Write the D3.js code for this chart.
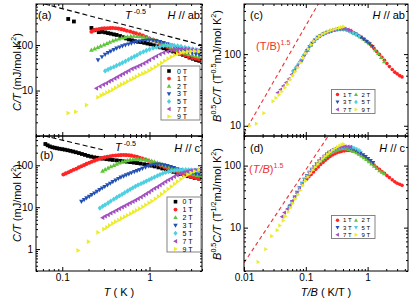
<!DOCTYPE html>
<html>
<head>
<meta charset="utf-8">
<script src="https://cdn.jsdelivr.net/npm/d3@7"></script>
<style>
body { margin: 0; background: #fff; }
text { font-family: "Liberation Sans", Arial, sans-serif; }
</style>
</head>
<body>
<div id="grafico"></div>
<script>
// Campos magneticos y estilos de cada serie
var campos = ["0 T", "1 T", "2 T", "3 T", "5 T", "7 T", "9 T"];
var colores = ["#000000", "#ff2424", "#5ec43a", "#2350b2", "#4ccfe0", "#a24fc0", "#ecec2a"];
var simbolos = ["cuadrado", "circulo", "arriba", "abajo", "diamante", "izq", "der"];

// (a) H // ab : T (K) , C/T (mJ/mol K^2)
var a0T = [[0.117,375],[0.136,330],[0.216,238],[0.235,212],[0.262,192],[0.285,195],[0.31,190],[0.335,183],[0.36,178],[0.39,172],[0.42,167],[0.46,158],[0.5,149],[0.54,140],[0.58,133],[0.63,127],[0.68,122],[0.74,118],[0.8,116],[0.87,112],[0.95,108],[1.03,104],[1.12,99],[1.22,94],[1.33,89],[1.45,85],[1.58,81],[1.72,76],[1.87,72],[2.04,68],[2.22,65],[2.42,61],[2.64,57],[2.88,53],[3.14,50],[3.42,47],[3.72,45]];
var a1T = [[0.216,197],[0.23,210],[0.246,220],[0.265,226],[0.285,230],[0.305,233],[0.33,235],[0.355,236],[0.38,237],[0.41,235],[0.44,230],[0.475,224],[0.51,216],[0.55,207],[0.6,198],[0.65,189],[0.7,181],[0.77,172],[0.84,162],[0.92,150],[1.0,140],[1.1,130],[1.2,120],[1.32,110],[1.45,100],[1.6,91],[1.75,83],[1.92,76],[2.1,70],[2.3,64],[2.55,59],[2.8,55],[3.1,52],[3.4,50],[3.7,48]];
var a2T = [[0.216,78],[0.235,83],[0.255,89],[0.275,95],[0.3,102],[0.325,109],[0.35,116],[0.38,124],[0.41,131],[0.445,138],[0.48,144],[0.52,149],[0.56,153],[0.61,156],[0.66,157],[0.72,156],[0.78,154],[0.85,150],[0.93,145],[1.0,140],[1.1,133],[1.2,125],[1.32,116],[1.45,107],[1.6,99],[1.75,91],[1.92,84],[2.1,78],[2.3,72],[2.55,67],[2.8,63],[3.1,60],[3.4,57],[3.7,55]];
var a3T = [[0.257,47],[0.285,55],[0.31,62],[0.335,68],[0.36,73],[0.39,79],[0.42,85],[0.455,90],[0.49,95],[0.53,100],[0.575,105],[0.62,110],[0.67,115],[0.72,119],[0.78,122],[0.85,125],[0.92,127],[1.0,128],[1.1,127],[1.2,124],[1.32,119],[1.45,113],[1.6,106],[1.75,99],[1.92,92],[2.1,86],[2.3,80],[2.55,75],[2.8,71],[3.1,67],[3.4,64],[3.7,62]];
var a5T = [[0.31,27],[0.335,29],[0.36,31],[0.39,33],[0.42,35.5],[0.455,38],[0.49,41],[0.53,44],[0.575,48],[0.62,52],[0.67,56],[0.72,60],[0.78,66],[0.85,71],[0.92,76],[1.0,81],[1.1,86],[1.2,90],[1.32,93],[1.45,96],[1.6,98],[1.75,99],[1.92,98],[2.1,96],[2.3,93],[2.55,89],[2.8,86],[3.1,82],[3.4,79],[3.7,76]];
var a7T = [[0.246,11.2],[0.27,12.3],[0.295,13.5],[0.32,14.5],[0.345,15.8],[0.37,17],[0.4,18.4],[0.43,20],[0.465,21.8],[0.5,23.5],[0.54,25.5],[0.58,27.5],[0.63,30],[0.68,32],[0.735,34],[0.79,36.5],[0.86,39.5],[0.93,43],[1.0,47],[1.1,52],[1.2,57],[1.32,63],[1.45,68],[1.6,72],[1.75,76],[1.92,79],[2.1,81],[2.3,82],[2.55,82],[2.8,81],[3.1,79],[3.4,77],[3.7,75]];
var a9T = [[0.117,3.2],[0.143,3.4],[0.19,4.8],[0.257,7.1],[0.28,7.8],[0.3,8.3],[0.325,9],[0.35,9.6],[0.38,10.5],[0.41,11.5],[0.445,12.5],[0.48,13.6],[0.52,14.6],[0.56,15.8],[0.61,17.2],[0.66,18.6],[0.71,20.2],[0.77,22],[0.84,23.5],[0.91,25],[0.99,27.5],[1.07,30],[1.17,33],[1.27,36.5],[1.38,40.5],[1.5,45],[1.64,50],[1.78,55],[1.94,60],[2.1,64],[2.3,67.5],[2.5,70],[2.75,72],[3.0,73],[3.3,73.5],[3.7,73]];

// (b) H // c : T (K) , C/T (mJ/mol K^2)
var b0T = [[0.064,322],[0.068,300],[0.072,282],[0.077,270],[0.082,262],[0.087,255],[0.093,248],[0.1,242],[0.107,236],[0.115,229],[0.124,221],[0.133,213],[0.143,205],[0.155,196],[0.168,186],[0.182,177],[0.197,168],[0.214,161],[0.232,155],[0.25,151],[0.27,147],[0.29,144],[0.32,140],[0.35,137],[0.38,134],[0.42,131],[0.46,128],[0.5,125],[0.55,122],[0.6,119],[0.66,116],[0.72,113],[0.79,110],[0.87,106],[0.95,102],[1.05,98],[1.15,94],[1.27,89],[1.4,84],[1.55,79],[1.7,74],[1.87,70],[2.05,66],[2.25,62],[2.5,58],[2.75,55],[3.0,53],[3.3,50],[3.7,48]];
var b1T = [[0.103,60],[0.11,64],[0.118,68],[0.126,73],[0.135,78],[0.145,83],[0.155,89],[0.166,95],[0.178,101],[0.19,108],[0.204,115],[0.218,122],[0.234,129],[0.25,136],[0.268,143],[0.287,149],[0.307,155],[0.33,160],[0.355,165],[0.38,169],[0.41,172],[0.44,174],[0.47,175],[0.505,176],[0.54,175],[0.58,173],[0.62,170],[0.67,165],[0.72,159],[0.77,152],[0.83,145],[0.9,137],[0.97,129],[1.05,121],[1.14,113],[1.24,105],[1.35,98],[1.47,91],[1.6,85],[1.75,79],[1.9,74],[2.07,69],[2.25,65],[2.45,61],[2.67,57],[2.9,54],[3.15,52],[3.4,50],[3.7,48]];
var b2T = [[0.29,73],[0.31,79],[0.335,86],[0.36,93],[0.39,100],[0.42,107],[0.45,114],[0.485,120],[0.52,126],[0.56,131],[0.6,135],[0.645,138],[0.69,140],[0.74,141],[0.8,140],[0.86,138],[0.92,135],[0.99,131],[1.06,126],[1.14,121],[1.23,115],[1.32,109],[1.42,103],[1.53,97],[1.65,92],[1.78,87],[1.92,82],[2.07,78],[2.23,74],[2.4,70],[2.6,67],[2.8,64],[3.0,62],[3.25,60],[3.5,58],[3.7,57]];
var b3T = [[0.166,13.7],[0.178,15],[0.19,16.5],[0.204,18],[0.218,19.8],[0.234,21.7],[0.25,23.8],[0.268,26],[0.287,28.5],[0.307,31],[0.33,34],[0.355,37],[0.38,40.5],[0.41,44],[0.44,48],[0.47,52],[0.505,55],[0.54,58.5],[0.58,62],[0.62,66],[0.67,70],[0.72,74],[0.77,78],[0.83,84],[0.9,90],[0.97,96],[1.05,101],[1.14,104],[1.24,106],[1.35,105],[1.47,102],[1.6,98],[1.75,93],[1.9,87],[2.07,82],[2.25,77],[2.45,73],[2.67,70],[2.9,67],[3.15,65],[3.4,63],[3.7,62]];
var b5T = [[0.27,9.5],[0.29,10.5],[0.31,11.4],[0.335,12.6],[0.36,14],[0.39,15.5],[0.42,17],[0.45,18.6],[0.485,20.3],[0.52,22.2],[0.56,24.3],[0.6,26.5],[0.645,29],[0.69,31.5],[0.74,34],[0.8,36.5],[0.86,39],[0.92,42],[0.99,45],[1.06,48.5],[1.14,52],[1.23,56],[1.32,60],[1.42,64],[1.53,67.5],[1.65,70.5],[1.78,73],[1.92,75],[2.07,77],[2.23,78],[2.4,78.5],[2.6,78.5],[2.8,78],[3.0,77.5],[3.25,76.5],[3.5,75.5],[3.7,75]];
var b7T = [[0.29,5.6],[0.31,6.1],[0.335,6.6],[0.36,7.2],[0.39,7.8],[0.42,8.5],[0.45,9.2],[0.485,10],[0.52,10.8],[0.56,11.7],[0.6,12.6],[0.645,13.6],[0.69,14.7],[0.74,16],[0.8,17.5],[0.86,19.2],[0.92,21],[0.99,23],[1.06,25.5],[1.14,28],[1.23,30.5],[1.32,33.5],[1.42,37],[1.53,41],[1.65,45],[1.78,49],[1.92,54],[2.07,58],[2.23,62],[2.4,66],[2.6,70],[2.8,73],[3.0,75],[3.25,77],[3.5,78],[3.7,78]];
var b9T = [[0.152,0.93],[0.2,1.5],[0.257,2.5],[0.3,3.0],[0.325,3.3],[0.35,3.7],[0.38,4.1],[0.41,4.5],[0.445,4.9],[0.48,5.4],[0.52,5.9],[0.56,6.4],[0.61,7.0],[0.66,7.7],[0.71,8.4],[0.77,9.2],[0.84,10.2],[0.91,11.3],[0.99,12.6],[1.07,14],[1.17,15.8],[1.27,18],[1.38,20.5],[1.5,23.5],[1.64,27],[1.78,31],[1.94,36],[2.1,41],[2.3,47],[2.5,53],[2.75,60],[3.0,66],[3.3,72],[3.7,78]];

// (c) H // ab escalado : T/B (K/T) , B^0.5 C/T
var c1T = [[0.216,200],[0.24,206],[0.26,212],[0.29,218],[0.32,222],[0.35,225],[0.38,226],[0.42,224],[0.46,220],[0.5,214],[0.55,206],[0.6,198],[0.66,190],[0.72,181],[0.79,172],[0.87,162],[0.95,152],[1.05,142],[1.15,132],[1.27,120],[1.4,109],[1.55,99],[1.7,90],[1.87,82],[2.05,74],[2.25,67],[2.5,61],[2.75,56],[3.0,53],[3.3,50],[3.6,48]];
var c2T = [[0.108,112],[0.12,132],[0.135,150],[0.15,165],[0.17,180],[0.19,192],[0.21,200],[0.24,208],[0.27,215],[0.3,219],[0.34,222],[0.38,223],[0.43,220],[0.48,214],[0.54,205],[0.6,196],[0.68,185],[0.76,174],[0.85,162],[0.95,150],[1.06,140],[1.18,128],[1.32,114],[1.48,102],[1.65,90],[1.85,78]];
var c3T = [[0.086,80],[0.095,95],[0.105,112],[0.115,126],[0.127,142],[0.14,157],[0.155,171],[0.17,181],[0.19,190],[0.21,198],[0.235,206],[0.26,212],[0.29,217],[0.32,220],[0.36,222],[0.4,221],[0.45,216],[0.5,210],[0.56,200],[0.63,191],[0.7,182],[0.78,172],[0.87,161],[0.97,150],[1.08,139],[1.2,128]];
var c5T = [[0.062,58],[0.068,64],[0.075,72],[0.083,82],[0.092,96],[0.1,108],[0.11,120],[0.12,134],[0.135,150],[0.15,165],[0.165,177],[0.18,186],[0.2,194],[0.22,202],[0.245,209],[0.27,214],[0.3,218],[0.33,221],[0.37,223],[0.41,222],[0.46,217],[0.52,208],[0.58,199],[0.65,189],[0.73,178]];
var c7T = [[0.035,29],[0.039,32],[0.043,36],[0.048,40],[0.053,45],[0.059,52],[0.066,60],[0.073,68],[0.081,79],[0.09,92],[0.1,106],[0.11,121],[0.122,137],[0.135,153],[0.15,167],[0.165,178],[0.185,189],[0.205,197],[0.23,205],[0.255,212],[0.285,218],[0.315,223],[0.35,226],[0.39,227],[0.43,225],[0.48,220],[0.53,213]];
var c9T = [[0.0124,10],[0.0159,10.7],[0.021,15],[0.0295,22],[0.033,24.5],[0.037,27],[0.041,30],[0.046,34],[0.051,38],[0.056,44],[0.062,50],[0.068,57],[0.075,65],[0.083,76],[0.092,90],[0.1,103],[0.11,118],[0.122,136],[0.135,152],[0.15,166],[0.166,178],[0.185,190],[0.205,199],[0.23,208],[0.255,216],[0.285,222],[0.315,228],[0.35,233],[0.38,238],[0.41,241]];

// (d) H // c escalado : T/B (K/T) , B^0.5 C/T
var d1T = [[0.103,60],[0.112,66],[0.122,72],[0.133,79],[0.145,87],[0.159,95],[0.173,104],[0.19,113],[0.207,122],[0.226,131],[0.247,140],[0.27,148],[0.295,155],[0.32,161],[0.35,166],[0.38,170],[0.42,173],[0.46,175],[0.5,175],[0.55,173],[0.6,169],[0.66,163],[0.72,156],[0.79,148],[0.87,139],[0.95,130],[1.05,120],[1.15,111],[1.27,102],[1.4,94],[1.55,87],[1.7,80],[1.87,75],[2.05,69],[2.25,64],[2.5,59],[2.75,55],[3.0,52],[3.3,50],[3.6,48]];
var d2T = [[0.145,100],[0.158,108],[0.172,117],[0.188,126],[0.205,136],[0.224,146],[0.245,155],[0.268,164],[0.293,172],[0.32,179],[0.35,184],[0.38,187],[0.42,188],[0.46,186],[0.5,182],[0.55,176],[0.6,169],[0.66,161],[0.72,152],[0.79,143],[0.87,134],[0.95,125],[1.05,115],[1.15,106],[1.27,98],[1.4,90],[1.55,83],[1.7,78],[1.85,74]];
var d3T = [[0.055,22],[0.06,26],[0.066,31],[0.072,37],[0.079,44],[0.087,52],[0.095,60],[0.104,69],[0.114,78],[0.125,87],[0.137,97],[0.15,107],[0.165,118],[0.18,129],[0.2,141],[0.22,153],[0.24,164],[0.265,174],[0.29,182],[0.32,189],[0.35,194],[0.39,197],[0.43,198],[0.48,196],[0.53,191],[0.58,185],[0.64,177],[0.7,169],[0.77,160],[0.85,150],[0.93,140],[1.02,130],[1.12,121],[1.23,112]];
var d5T = [[0.054,21],[0.06,25],[0.066,30],[0.072,36],[0.079,43],[0.087,51],[0.095,59],[0.104,68],[0.114,77],[0.125,86],[0.137,96],[0.15,106],[0.165,117],[0.18,128],[0.2,140],[0.22,152],[0.24,162],[0.265,172],[0.29,180],[0.32,187],[0.35,192],[0.39,196],[0.43,199],[0.48,200],[0.53,199],[0.58,194],[0.64,187],[0.7,178],[0.74,172]];
var d7T = [[0.041,15],[0.045,17.5],[0.05,20],[0.055,23],[0.06,27],[0.066,31],[0.072,36],[0.079,42],[0.087,50],[0.095,58],[0.104,67],[0.114,77],[0.125,87],[0.137,97],[0.15,108],[0.165,120],[0.18,131],[0.2,144],[0.22,156],[0.24,167],[0.265,177],[0.29,186],[0.32,193],[0.35,198],[0.39,202],[0.43,204],[0.48,203],[0.53,200]];
var d9T = [[0.0169,2.8],[0.0225,4.5],[0.028,7.3],[0.0345,9.1],[0.038,10.8],[0.043,13],[0.047,15.2],[0.052,18],[0.057,21],[0.062,24.7],[0.068,29],[0.075,34],[0.082,40],[0.09,48],[0.099,57],[0.108,66],[0.118,75],[0.13,85],[0.142,95],[0.156,106],[0.17,117],[0.186,129],[0.204,141],[0.224,152],[0.245,164],[0.27,177],[0.295,189],[0.325,200],[0.355,210],[0.385,217],[0.41,222]];

// Lineas de referencia: coeficiente y exponente (T^-0.5 y (T/B)^1.5)
var refA = { k: 200, p: -0.5, desde: 0.05, hasta: 4 };
var refB = { k: 126, p: -0.5, desde: 0.05, hasta: 0.29 };
var refC = { k: 7900, p: 1.5, desde: 0.01, hasta: 0.2 };
var refD = { k: 2710, p: 1.5, desde: 0.01, hasta: 0.26 };

var svg = d3.select("#grafico").append("svg")
    .attr("width", 415)
    .attr("height", 302);

// Forma de los simbolos
function marcador(tipo, s) {
    switch (tipo) {
        case "cuadrado": return "M" + (-s) + "," + (-s) + "h" + (2 * s) + "v" + (2 * s) + "h" + (-2 * s) + "Z";
        case "circulo": return d3.symbol(d3.symbolCircle, Math.PI * s * s * 1.15)();
        case "arriba": return "M0," + (-1.3 * s) + "L" + (1.25 * s) + "," + (0.9 * s) + "L" + (-1.25 * s) + "," + (0.9 * s) + "Z";
        case "abajo": return "M0," + (1.3 * s) + "L" + (1.25 * s) + "," + (-0.9 * s) + "L" + (-1.25 * s) + "," + (-0.9 * s) + "Z";
        case "izq": return "M" + (-1.3 * s) + ",0L" + (0.9 * s) + "," + (-1.25 * s) + "L" + (0.9 * s) + "," + (1.25 * s) + "Z";
        case "der": return "M" + (1.3 * s) + ",0L" + (-0.9 * s) + "," + (-1.25 * s) + "L" + (-0.9 * s) + "," + (1.25 * s) + "Z";
        case "diamante": return "M0," + (-1.4 * s) + "L" + (1.15 * s) + ",0L0," + (1.4 * s) + "L" + (-1.15 * s) + ",0Z";
    }
}

// Texto con partes en cursiva y superindices
function texto(g, x, y, partes, tam, ancla, girar) {
    var t = g.append("text")
        .attr("x", x)
        .attr("y", y)
        .style("font-size", tam + "px")
        .attr("text-anchor", ancla || "start");
    if (girar) t.attr("transform", "rotate(-90," + x + "," + y + ")");
    var arriba = false;
    partes.forEach(function(p) {
        var s = t.append("tspan").text(p.t);
        if (p.i) s.style("font-style", "italic");
        if (p.sup) {
            s.style("font-size", (tam * 0.65) + "px");
            if (!arriba) s.attr("dy", -tam * 0.42);
            arriba = true;
        } else if (arriba) {
            s.attr("dy", tam * 0.42);
            arriba = false;
        }
    });
    return t;
}

function esMayor(v) {
    var l = Math.log10(v);
    return Math.abs(l - Math.round(l)) < 1e-9;
}

// Ejes con ticks hacia adentro en los cuatro lados
function ejes(g, x, y, op) {
    var fmt = function(lista) {
        return function(d) {
            return lista.some(function(v) { return Math.abs(v - d) < 1e-9 * d; }) ? String(d) : "";
        };
    };
    var xt = x.ticks(), yt = y.ticks();
    var lados = [
        [d3.axisBottom, x, xt, "translate(0," + op.y1 + ")", op.xLab],
        [d3.axisTop, x, xt, "translate(0," + op.y0 + ")", []],
        [d3.axisLeft, y, yt, "translate(" + op.x0 + ",0)", op.yLab],
        [d3.axisRight, y, yt, "translate(" + op.x1 + ",0)", []]
    ];
    lados.forEach(function(l) {
        var mayores = l[2].filter(esMayor);
        var menores = l[2].filter(function(v) { return !esMayor(v); });
        [[mayores, 4, fmt(l[4])], [menores, 2, function() { return ""; }]].forEach(function(t) {
            g.append("g")
                .attr("transform", l[3])
                .attr("font-size", 7.5)
                .attr("font-family", '"Liberation Sans", Arial, sans-serif')
                .call(l[0](l[1]).tickValues(t[0]).tickSize(-t[1]).tickPadding(3).tickFormat(t[2]))
                .call(function(s) { s.select(".domain").remove(); });
        });
    });
}

// Leyenda con caja
function leyenda(g, caja, filas, tam, fuente) {
    g.append("rect")
        .attr("x", caja.x).attr("y", caja.y)
        .attr("width", caja.w).attr("height", caja.h)
        .attr("fill", "#fff")
        .attr("stroke", "#777")
        .attr("stroke-width", 0.9);
    filas.forEach(function(f) {
        g.append("path")
            .attr("d", marcador(f.simbolo, tam))
            .attr("transform", "translate(" + f.mx + "," + f.my + ")")
            .attr("fill", f.color);
        g.append("text")
            .attr("x", f.tx)
            .attr("y", f.my + fuente * 0.36)
            .style("font-size", fuente + "px")
            .text(f.texto);
    });
}

// Panel completo
function panel(op) {
    var x = d3.scaleLog().domain(op.xDom).range([op.x0, op.x1]);
    var y = d3.scaleLog().domain(op.yDom).range([op.y1, op.y0]);
    var g = svg.append("g");

    svg.append("clipPath").attr("id", "clip-" + op.id)
        .append("rect")
        .attr("x", op.x0).attr("y", op.y0)
        .attr("width", op.x1 - op.x0).attr("height", op.y1 - op.y0);

    var gd = g.append("g").attr("clip-path", "url(#clip-" + op.id + ")");

    // linea de referencia discontinua (recta en log-log)
    var r = op.ref;
    gd.append("path")
        .datum([r.desde, r.hasta])
        .attr("fill", "none")
        .attr("stroke", op.refColor)
        .attr("stroke-width", 1.1)
        .attr("stroke-dasharray", op.refDash)
        .attr("d", d3.line()
            .x(function(d) { return x(d); })
            .y(function(d) { return y(r.k * Math.pow(d, r.p)); }));

    // series
    op.series.forEach(function(serie, i) {
        var idx = op.indices[i];
        var tipo = op.simb ? op.simb[i] : simbolos[idx];
        gd.selectAll(null)
            .data(serie)
            .enter()
            .append("path")
            .attr("d", marcador(tipo, op.tam))
            .attr("transform", function(d) { return "translate(" + x(d[0]) + "," + y(d[1]) + ")"; })
            .attr("fill", colores[idx]);
    });

    ejes(g, x, y, op);

    g.append("rect")
        .attr("x", op.x0).attr("y", op.y0)
        .attr("width", op.x1 - op.x0).attr("height", op.y1 - op.y0)
        .attr("fill", "none")
        .attr("stroke", "#000")
        .attr("stroke-width", 1);

    return g;
}

// Panel (a)
var gA = panel({
    id: "a", x0: 36, x1: 202, y0: 4, y1: 136,
    xDom: [0.05, 4], yDom: [1, 800], xLab: [], yLab: [10, 100],
    series: [a0T, a1T, a2T, a3T, a5T, a7T, a9T], indices: [0, 1, 2, 3, 4, 5, 6],
    tam: 1.9, ref: refA, refColor: "#000", refDash: "5,3"
});
texto(gA, 38, 19, [{ t: "(a)" }], 11);
texto(gA, 200, 19, [{ t: "H", i: 1 }, { t: " // ab" }], 11, "end");
texto(gA, 125, 19, [{ t: "T", i: 1 }, { t: " -0.5", sup: 1 }], 11);
texto(gA, 20.5, 72, [{ t: "C/T", i: 1 }, { t: " (mJ/mol K" }, { t: "2", sup: 1 }, { t: ")" }], 11, "middle", true);
leyenda(gA, { x: 161, y: 66, w: 39, h: 54 },
    campos.map(function(c, i) {
        return { simbolo: simbolos[i], color: colores[i], texto: c, mx: 169, my: 71 + 7.6 * i, tx: 177 };
    }), 1.8, 7);

// Panel (b)
var gB = panel({
    id: "b", x0: 36, x1: 202, y0: 136, y1: 271,
    xDom: [0.05, 4], yDom: [0.3, 500], xLab: [0.1, 1], yLab: [1, 10, 100],
    series: [b0T, b1T, b2T, b3T, b5T, b7T, b9T], indices: [0, 1, 2, 3, 4, 5, 6],
    tam: 1.9, ref: refB, refColor: "#000", refDash: "5,3"
});
texto(gB, 40, 159, [{ t: "(b)" }], 11);
texto(gB, 200, 152, [{ t: "H", i: 1 }, { t: " // c" }], 11, "end");
texto(gB, 115, 151, [{ t: "T", i: 1 }, { t: " -0.5", sup: 1 }], 11);
texto(gB, 20.5, 203, [{ t: "C/T", i: 1 }, { t: " (mJ/mol K" }, { t: "2", sup: 1 }, { t: ")" }], 11, "middle", true);
texto(gB, 119, 296, [{ t: "T", i: 1 }, { t: " ( K )" }], 11, "middle");
leyenda(gB, { x: 167, y: 197, w: 34, h: 55 },
    campos.map(function(c, i) {
        return { simbolo: simbolos[i], color: colores[i], texto: c, mx: 175.5, my: 201.7 + 7.9 * i, tx: 182.5 };
    }), 1.8, 7);

// Panel (c)
var gC = panel({
    id: "c", x0: 244, x1: 408, y0: 4, y1: 136,
    xDom: [0.01, 4.5], yDom: [7.2, 500], xLab: [], yLab: [10, 100],
    series: [c1T, c2T, c3T, c5T, c7T, c9T], indices: [1, 2, 3, 4, 5, 6],
    tam: 1.7, ref: refC, refColor: "#ee3333", refDash: "4,3"
});
texto(gC, 250, 19, [{ t: "(c)" }], 11);
texto(gC, 405, 19, [{ t: "H", i: 1 }, { t: " // ab" }], 11, "end");
texto(gC, 256, 50, [{ t: "(T/B)" }, { t: "1.5", sup: 1 }], 11).style("fill", "#ee3333");
texto(gC, 221, 66, [{ t: "B", i: 1 }, { t: "0.5", sup: 1 }, { t: "C/T", i: 1 }, { t: " (T" }, { t: "0.5", sup: 1 }, { t: "mJ/mol K" }, { t: "2", sup: 1 }, { t: ")" }], 11, "middle", true);

// Panel (d)
var gD = panel({
    id: "d", x0: 244, x1: 408, y0: 136, y1: 271,
    xDom: [0.01, 4.5], yDom: [2, 300], xLab: [0.01, 0.1, 1], yLab: [10, 100],
    series: [d1T, d2T, d3T, d5T, d7T, d9T], indices: [1, 2, 3, 4, 5, 6],
    simb: ["circulo", "arriba", "abajo", "abajo", "izq", "der"],
    tam: 1.7, ref: refD, refColor: "#ee3333", refDash: "4,3"
});
texto(gD, 250, 152, [{ t: "(d)" }], 11);
texto(gD, 405, 152, [{ t: "H", i: 1 }, { t: " // c" }], 11, "end");
texto(gD, 249, 173, [{ t: "(" }, { t: "T/B", i: 1 }, { t: ")" }, { t: "1.5", sup: 1 }], 11).style("fill", "#ee3333");
texto(gD, 221, 204, [{ t: "B", i: 1 }, { t: "0.5", sup: 1 }, { t: "C/T", i: 1 }, { t: " (T" }, { t: "1/2", sup: 1 }, { t: "mJ/mol K" }, { t: "2", sup: 1 }, { t: ")" }], 11, "middle", true);
texto(gD, 326, 296, [{ t: "T/B", i: 1 }, { t: " ( K/T )" }], 11, "middle");

// Leyendas de dos columnas en (c) y (d)
var orden = [[1, 2], [3, 4], [5, 6]];
function filasDoble(y0, paso, simbD) {
    var filas = [];
    orden.forEach(function(par, r) {
        par.forEach(function(idx, c) {
            filas.push({
                simbolo: simbD && idx === 4 ? "abajo" : simbolos[idx],
                color: colores[idx], texto: campos[idx],
                mx: 337.5 + 18.5 * c, my: y0 + paso * r, tx: 343 + 18.5 * c
            });
        });
    });
    return filas;
}
leyenda(gC, { x: 331.5, y: 89.5, w: 43.5, h: 24 }, filasDoble(94.5, 7.5, false), 1.6, 6);
leyenda(gD, { x: 331.5, y: 215.5, w: 43.5, h: 23 }, filasDoble(220.3, 7.2, true), 1.6, 6);
</script>
</body>
</html>
